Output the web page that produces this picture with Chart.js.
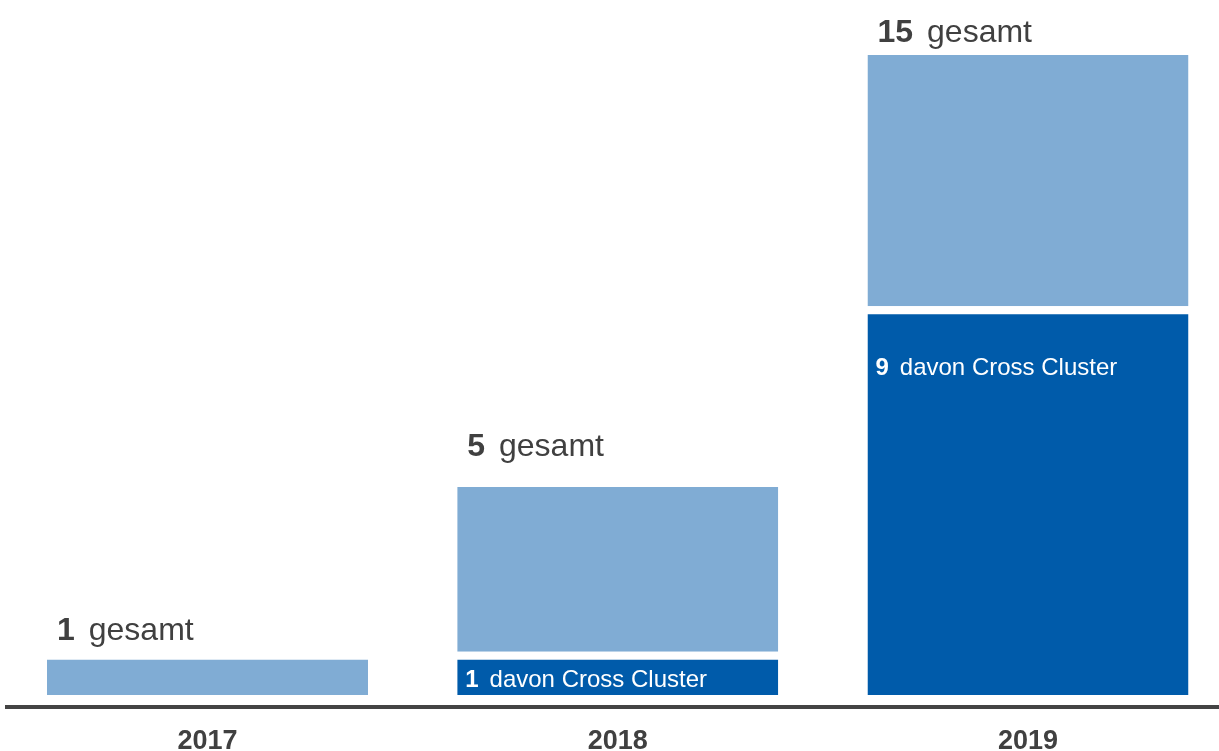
<!DOCTYPE html>
<html>
<head>
<meta charset="utf-8">
<script src="https://cdn.jsdelivr.net/npm/chart.js@4"></script>
<style>
  html, body { margin: 0; padding: 0; background: #fff; overflow: hidden; }
  #wrap { width: 1219px; height: 751px; }
</style>
</head>
<body>
<div id="wrap"><canvas id="chart"></canvas></div>
<script>
const years = ['2017', '2018', '2019'];
const totals = [1, 5, 15];
const crossCluster = [0, 1, 9];

// the light part of each bar is what is left after cross cluster
const rest = totals.map((t, i) => t - crossCluster[i]);

const LIGHT = '#80acd4';
const DARK = '#005baa';
const TEXT = '#404040';
const GAP = 8;
const FONT = '"Liberation Sans", Arial, sans-serif';

const labelPlugin = {
    id: 'barLabels',
    afterDatasetsDraw(chart, args, opts) {
        const ctx = chart.ctx;
        const darkMeta = chart.getDatasetMeta(0);
        const lightMeta = chart.getDatasetMeta(1);
        ctx.save();
        ctx.textBaseline = 'alphabetic';
        ctx.textAlign = 'left';

        years.forEach((y, i) => {
            // total on top
            const top = lightMeta.data[i];
            let x = top.x - top.width / 2 + opts.totalDx;
            const base = top.y + GAP - opts.totalDy[i];
            ctx.fillStyle = TEXT;
            ctx.font = 'bold 32px ' + FONT;
            ctx.fillText(String(totals[i]), x, base);
            x += ctx.measureText(String(totals[i])).width + 14;
            ctx.font = '32px ' + FONT;
            ctx.fillText('gesamt', x, base);

            // cross cluster inside the dark part
            if (crossCluster[i] > 0) {
                const bar = darkMeta.data[i];
                let cx = bar.x - bar.width / 2 + opts.innerDx;
                const cb = bar.y + GAP + opts.innerDy[i];
                ctx.fillStyle = '#ffffff';
                ctx.font = 'bold 24px ' + FONT;
                ctx.fillText(String(crossCluster[i]), cx, cb);
                cx += ctx.measureText(String(crossCluster[i])).width + 11;
                ctx.font = '24px ' + FONT;
                ctx.fillText('davon Cross Cluster', cx, cb);
            }
        });
        ctx.restore();
    }
};

new Chart(document.getElementById('chart'), {
    type: 'bar',
    data: {
        datasets: [
            {
                label: 'davon Cross Cluster',
                data: crossCluster.map((v, i) => ({ x: i, y: v })),
                backgroundColor: DARK,
                borderColor: '#ffffff',
                borderWidth: { top: GAP, left: 0, right: 0, bottom: 0 },
                borderSkipped: false,
                barPercentage: 0.7825,
                categoryPercentage: 1
            },
            {
                label: 'gesamt',
                data: rest.map((v, i) => ({ x: i, y: v })),
                backgroundColor: LIGHT,
                borderColor: '#ffffff',
                borderWidth: { top: GAP, left: 0, right: 0, bottom: 0 },
                borderSkipped: false,
                barPercentage: 0.7825,
                categoryPercentage: 1
            }
        ]
    },
    options: {
        responsive: true,
        maintainAspectRatio: false,
        animation: false,
        layout: { padding: { left: 7, right: 0, top: 0, bottom: 0 } },
        plugins: {
            legend: { display: false },
            tooltip: { enabled: false },
            barLabels: {
                totalDx: 10,
                totalDy: [20, 31, 13],
                innerDx: 8,
                innerDy: [0, 27, 61]
            }
        },
        scales: {
            x: {
                type: 'linear',
                stacked: true,
                offset: false,
                min: -0.4887,
                max: 2.4656,
                grid: { display: false, drawTicks: false },
                border: { display: true, color: '#444444', width: 4 },
                afterBuildTicks(scale) {
                    scale.ticks = years.map((y, i) => ({ value: i }));
                },
                afterFit(scale) { scale.height = 44; },
                ticks: {
                    padding: 18,
                    color: TEXT,
                    font: { family: FONT, size: 27, weight: 'bold' },
                    callback: (v) => years[v] ?? ''
                }
            },
            y: {
                display: false,
                stacked: true,
                min: -0.2778,
                max: 16.088
            }
        }
    },
    plugins: [labelPlugin]
});
</script>
</body>
</html>
